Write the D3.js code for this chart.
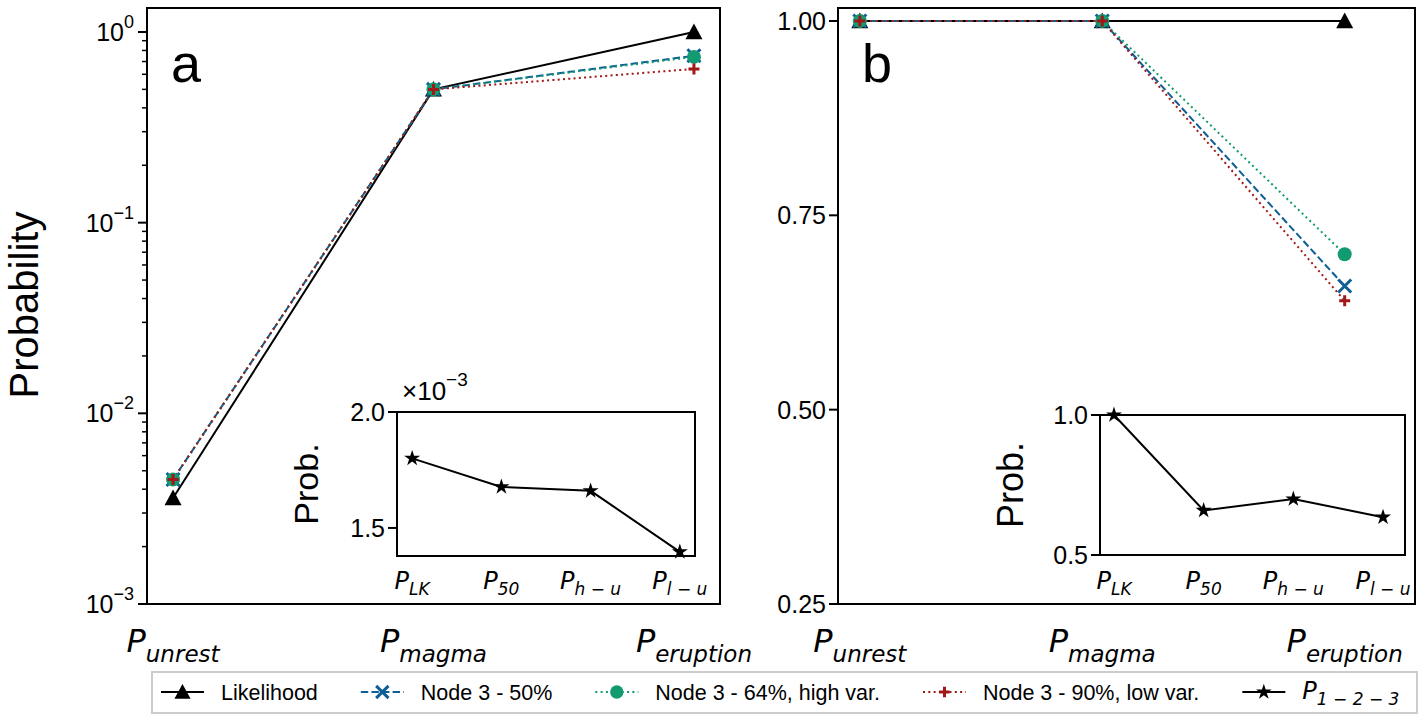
<!DOCTYPE html>
<html><head><meta charset="utf-8">
<script src="https://cdn.jsdelivr.net/npm/d3@7"></script>
<style>body{margin:0;background:#fff}</style>
</head><body><svg id="c" width="1422" height="716"></svg>
<script>
// ---------- data ----------
const stages = ["unrest", "magma", "eruption"];
const seriesNames = ["Likelihood", "Node 3 - 50%", "Node 3 - 64%, high var.", "Node 3 - 90%, low var."];
const panelAValues = [
  [0.0036, 0.5, 1.0],
  [0.0045, 0.5, 0.75],
  [0.0045, 0.5, 0.74],
  [0.0045, 0.5, 0.64]
];
const panelBValues = [
  [1.0, 1.0, 1.0],
  [1.0, 1.0, 0.659],
  [1.0, 1.0, 0.70],
  [1.0, 1.0, 0.64]
];
const insetCats = ["LK", "50", "h − u", "l − u"];
const insetAValues = [1.80, 1.677, 1.66, 1.397]; // ×10^-3
const insetBValues = [1.0, 0.659, 0.70, 0.635];
const panelATicks = [1e-3, 1e-2, 1e-1, 1];
const panelBTicks = [0.25, 0.50, 0.75, 1.00];
const insetATicks = [1.5, 2.0];
const insetBTicks = [0.5, 1.0];
const insetSeriesName = "1 − 2 − 3";

// ---------- styles ----------
const colors = ["#000000", "#0e5f96", "#129a70", "#a01818"];
const dashes = [null, "7.4,3.2", "2,3.3", "2,3.3"];
const markers = ["tri", "x", "circle", "plus"];
const FONT = "'Liberation Sans', Arial, sans-serif";
const MATH = "'DejaVu Sans', sans-serif";

const svg = d3.select("#c");

function drawMarker(g, type, x, y, color, scale = 1) {
  if (type === "tri") {
    const h = 8.5 * scale;
    g.append("path").attr("d", `M${x},${y - h}L${x + h},${y + h * 0.85}L${x - h},${y + h * 0.85}Z`).attr("fill", color);
  } else if (type === "circle") {
    g.append("circle").attr("cx", x).attr("cy", y).attr("r", 7 * scale).attr("fill", color);
  } else if (type === "x") {
    const s = 6.5 * scale;
    g.append("path").attr("d", `M${x - s},${y - s}L${x + s},${y + s}M${x - s},${y + s}L${x + s},${y - s}`)
      .attr("stroke", color).attr("stroke-width", 3).attr("fill", "none");
  } else if (type === "plus") {
    const s = 5.5 * scale;
    g.append("path").attr("d", `M${x - s},${y}L${x + s},${y}M${x},${y - s}L${x},${y + s}`)
      .attr("stroke", color).attr("stroke-width", 3).attr("fill", "none");
  } else if (type === "star") {
    g.append("path").attr("d", d3.symbol(d3.symbolStar, 80 * scale)()).attr("transform", `translate(${x},${y})`).attr("fill", color);
  }
}

function mathLabel(g, x, y, sub, size, subSize, anchor = "middle", drop = 0.3) {
  const t = g.append("text").attr("x", x).attr("y", y).attr("text-anchor", anchor)
    .attr("font-family", MATH).attr("font-style", "italic").attr("font-size", size);
  t.append("tspan").text("P");
  t.append("tspan").attr("font-size", subSize).attr("dy", size * drop).text(sub);
  return t;
}

// ---------- main panels ----------
function panel(box, yScale, values, letter, yTickFn) {
  const x = d3.scaleLinear().domain(box.xd).range([box.l, box.r]);
  const g = svg.append("g");
  values.forEach((vals, i) => {
    const line = d3.line().x((d, j) => x(j)).y(d => yScale(d));
    g.append("path").datum(vals).attr("d", line).attr("fill", "none")
      .attr("stroke", colors[i]).attr("stroke-width", 2)
      .attr("stroke-dasharray", dashes[i]);
  });
  values.forEach((vals, i) => {
    vals.forEach((v, j) => drawMarker(g, markers[i], x(j), yScale(v), colors[i]));
  });
  g.append("rect").attr("x", box.l).attr("y", box.t).attr("width", box.r - box.l).attr("height", box.b - box.t)
    .attr("fill", "none").attr("stroke", "#000").attr("stroke-width", 2);
  yTickFn(g);
  stages.forEach((s, j) => mathLabel(g, x(j), 652, s, 32, 23));
  g.append("text").attr("x", box.l + 24).attr("y", 82).attr("font-family", FONT).attr("font-size", 54).text(letter);
  return g;
}

// Panel a (log)
const yA = d3.scaleLog().domain([1e-3, 1.336]).range([604, 8]);
panel({l: 147, r: 720, t: 8, b: 604, xd: [-0.1, 2.1]}, yA, panelAValues, "a", g => {
  const L = 147;
  const minors = [];
  [1e-3, 1e-2, 1e-1].forEach(dec => { for (let k = 2; k <= 9; k++) minors.push(dec * k); });
  minors.forEach(v => g.append("line").attr("x1", L - 5).attr("x2", L).attr("y1", yA(v)).attr("y2", yA(v)).attr("stroke", "#000").attr("stroke-width", 1.5));
  panelATicks.forEach(v => {
    const y = yA(v);
    g.append("line").attr("x1", L - 9).attr("x2", L).attr("y1", y).attr("y2", y).attr("stroke", "#000").attr("stroke-width", 2);
    const e = Math.round(Math.log10(v));
    const t = g.append("text").attr("x", L - 13).attr("y", y + 9).attr("text-anchor", "end")
      .attr("font-family", FONT).attr("font-size", 25);
    t.append("tspan").text("10");
    t.append("tspan").attr("font-size", 18).attr("dy", -13).text(e === 0 ? "0" : "−" + (-e));
  });
});
svg.append("text").attr("transform", "translate(38,305) rotate(-90)").attr("text-anchor", "middle")
  .attr("font-family", FONT).attr("font-size", 40).text("Probability");

// Panel b (linear)
const yB = d3.scaleLinear().domain([0.25, 1.0167]).range([604, 8]);
panel({l: 838, r: 1415, t: 8, b: 604, xd: [-0.09, 2.29]}, yB, panelBValues, "b", g => {
  const L = 838;
  panelBTicks.forEach(v => {
    const y = yB(v);
    g.append("line").attr("x1", L - 9).attr("x2", L).attr("y1", y).attr("y2", y).attr("stroke", "#000").attr("stroke-width", 2);
    g.append("text").attr("x", L - 12).attr("y", y + 9).attr("text-anchor", "end")
      .attr("font-family", FONT).attr("font-size", 25).text(d3.format(".2f")(v));
  });
});

// ---------- insets ----------
function inset(box, yd, vals, ticks, tickFmt, labelX, labelSize, mult) {
  const x = d3.scaleLinear().domain(box.xd).range([box.l, box.r]);
  const y = d3.scaleLinear().domain(yd).range([box.b, box.t]);
  const g = svg.append("g");
  g.append("rect").attr("x", box.l).attr("y", box.t).attr("width", box.r - box.l).attr("height", box.b - box.t)
    .attr("fill", "#fff");
  g.append("path").datum(vals).attr("d", d3.line().x((d, j) => x(j)).y(d => y(d)))
    .attr("fill", "none").attr("stroke", "#000").attr("stroke-width", 2);
  vals.forEach((v, j) => drawMarker(g, "star", x(j), y(v), "#000"));
  g.append("rect").attr("x", box.l).attr("y", box.t).attr("width", box.r - box.l).attr("height", box.b - box.t)
    .attr("fill", "none").attr("stroke", "#000").attr("stroke-width", 2);
  ticks.forEach(v => {
    g.append("line").attr("x1", box.l - 9).attr("x2", box.l).attr("y1", y(v)).attr("y2", y(v)).attr("stroke", "#000").attr("stroke-width", 2);
    g.append("text").attr("x", box.l - 12).attr("y", y(v) + 9).attr("text-anchor", "end")
      .attr("font-family", FONT).attr("font-size", 25).text(tickFmt(v));
  });
  insetCats.forEach((c, j) => mathLabel(g, x(j), 589, c, 24, 17, "middle", 0.25));
  g.append("text").attr("transform", `translate(${labelX},${(box.t + box.b) / 2}) rotate(-90)`).attr("text-anchor", "middle")
    .attr("font-family", FONT).attr("font-size", labelSize).text("Prob.");
  if (mult) {
    const t = g.append("text").attr("x", box.l + 5).attr("y", box.t - 12).attr("font-family", FONT).attr("font-size", 26);
    t.append("tspan").text("×10");
    t.append("tspan").attr("font-size", 19).attr("dy", -14).text("−3");
  }
}
inset({l: 397, r: 695, t: 412, b: 556, xd: [-0.17, 3.17]}, [1.379, 2.0], insetAValues, insetATicks, d3.format(".1f"), 318, 34, true);
inset({l: 1100, r: 1405, t: 415, b: 555, xd: [-0.156, 3.245]}, [0.5, 1.0], insetBValues, insetBTicks, d3.format(".1f"), 1023, 36, false);

// ---------- legend ----------
const lg = svg.append("g");
lg.append("rect").attr("x", 152).attr("y", 672).attr("width", 1265).attr("height", 41)
  .attr("fill", "#fff").attr("stroke", "#cccccc").attr("stroke-width", 2);
const LY = 692, LF = 21.5, HL = 43, HP = 17, CS = 43;
let cx = 161;
seriesNames.forEach((name, i) => {
  lg.append("line").attr("x1", cx).attr("x2", cx + HL).attr("y1", LY).attr("y2", LY)
    .attr("stroke", colors[i]).attr("stroke-width", 2).attr("stroke-dasharray", dashes[i]);
  drawMarker(lg, markers[i], cx + HL / 2, LY, colors[i], 0.95);
  const t = lg.append("text").attr("x", cx + HL + HP).attr("y", LY + 7.5).attr("font-family", FONT).attr("font-size", LF).text(name);
  cx = cx + HL + HP + t.node().getComputedTextLength() + CS;
});
lg.append("line").attr("x1", cx).attr("x2", cx + HL).attr("y1", LY).attr("y2", LY).attr("stroke", "#000").attr("stroke-width", 2);
drawMarker(lg, "star", cx + HL / 2, LY, "#000", 0.95);
mathLabel(lg, cx + HL + HP, LY + 7, insetSeriesName, 24, 17, "start", 0.25);
</script></body></html>
